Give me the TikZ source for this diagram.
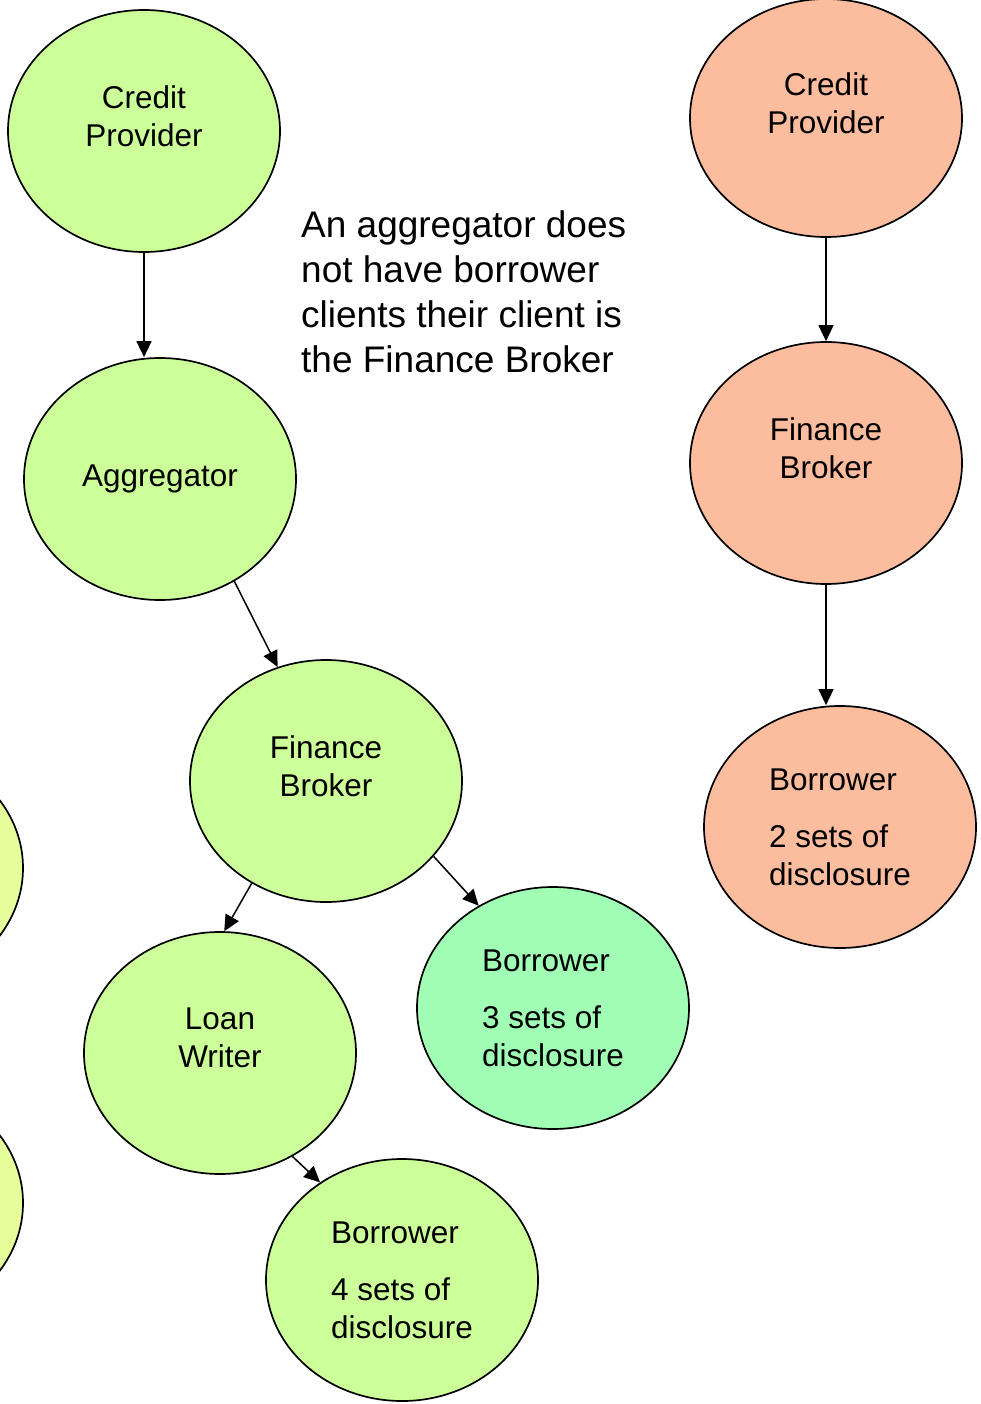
\documentclass[tikz,border=0pt]{standalone}
\usepackage{fontspec}
\setmainfont{Liberation Sans}
\usepackage{xcolor}
\usepackage{tikz}
\usetikzlibrary{
	arrows.meta,
	shapes.geometric,
	positioning
}
\definecolor{LightGreen}{RGB}{204,255,153}
\definecolor{PaleLime}{RGB}{230,255,155}
\definecolor{MintGreen}{RGB}{160,255,180}
\definecolor{Salmon}{RGB}{252,188,158}

\tikzset{
	bubble/.style={ellipse, draw, line width=1.7pt, minimum width=272pt, minimum height=242pt,
		inner sep=0pt, align=center, font=\fontsize{31.5}{38}\selectfont},
	raised/.style={text depth=30pt},
	link/.style={-{Triangle[length=16pt,width=15pt]}, line width=1.5pt}
}

\begin{document}
\begin{tikzpicture}[x=1pt, y=-1pt]
		\clip (0,0) rectangle (980,1404);
		
		% 左边被截去的两个
		\node[bubble, fill=PaleLime] (leftA) at (-113,868) {};
		\node[bubble, fill=PaleLime] (leftB) at (-113,1203) {};
		
		% 经纪渠道
		\node[bubble, raised, fill=LightGreen] (cpA) at (144,131) {Credit\\Provider};
		\node[bubble, fill=LightGreen] (agg) at (160,479) {Aggregator};
		\node[bubble, raised, fill=LightGreen] (fbA) at (326,781) {Finance\\Broker};
		\node[bubble, raised, fill=LightGreen] (lw) at (220,1053) {Loan\\Writer};
		\node[bubble, fill=MintGreen, align=left] (bthree) at (553,1008) {Borrower\\[19pt]3 sets of\\disclosure};
		\node[bubble, fill=LightGreen, align=left] (bfour) at (402,1280) {Borrower\\[19pt]4 sets of\\disclosure};
		
		\draw[link] (cpA.south) -- (cpA.south |- agg.north);
		\draw[link] (agg.-54) -- (fbA.113);
		\draw[link] (fbA.-126) -- (lw.88);
		\draw[link] (fbA.-35) -- (bthree.126);
		\draw[link] (lw.-55) -- (bfour.130);
		
		% 直接渠道
		\node[bubble, raised, fill=Salmon, minimum height=238pt] (cpB) at (826,118) {Credit\\Provider};
		\node[bubble, raised, fill=Salmon] (fbB) at (826,463) {Finance\\Broker};
		\node[bubble, fill=Salmon, align=left] (btwo) at (840,827) {Borrower\\[19pt]2 sets of\\disclosure};
		
		\draw[link] (cpB.south) -- (fbB.north);
		\draw[link] (fbB.south) -- (fbB.south |- btwo.north);
		
		% 说明
		\node[anchor=north west, align=left, inner sep=0pt, font=\fontsize{37}{45}\selectfont] (note) at (301,210)
			{An aggregator does\\not have borrower\\clients their client is\\the Finance Broker};
	\end{tikzpicture}
\end{document}
